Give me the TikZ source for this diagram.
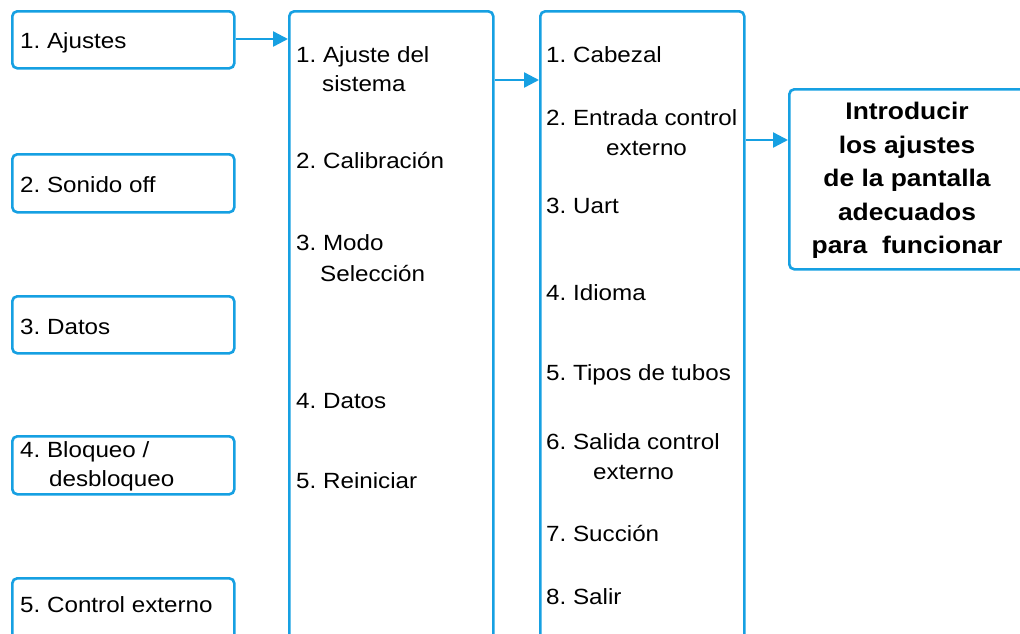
\documentclass[tikz,border=0pt]{standalone}
\usepackage{fontspec}
\setmainfont{Liberation Sans}[FakeStretch=1.1]
\usetikzlibrary{arrows.meta}
\definecolor{bl}{RGB}{22,160,226}
\frenchspacing
\tikzset{
  box/.style={draw=bl, line width=2.6pt, rounded corners=5pt, anchor=north west, inner sep=0pt, fill=white},
  txt/.style={anchor=base west, inner sep=0pt, font=\fontsize{22}{26}\selectfont\frenchspacing, text=black},
  btxt/.style={inner sep=0pt, font=\fontsize{24}{33.5}\selectfont\bfseries\frenchspacing, align=center, text=black},
  arr/.style={draw=bl, line width=2.4pt, -{Triangle[length=15pt,width=15pt]}},
}
\begin{document}
\begin{tikzpicture}[x=1pt,y=-1pt]
\clip (0,0) rectangle (1020,633);
\fill[white] (0,0) rectangle (1020,633);
% left boxes
\node[box, minimum width=222pt, minimum height=57pt] (b1) at (11,10) {};
\node[box, minimum width=222pt, minimum height=58pt] (b2) at (11,153) {};
\node[box, minimum width=222pt, minimum height=57pt] (b3) at (11,295) {};
\node[box, minimum width=222pt, minimum height=58pt] (b4) at (11,435) {};
\node[box, minimum width=222pt, minimum height=70pt] (b5) at (11,577) {};
% columns
\node[box, minimum width=204pt, minimum height=640pt] (c2) at (288,10) {};
\node[box, minimum width=204pt, minimum height=640pt] (c3) at (539,10) {};
\node[box, minimum width=250pt, minimum height=180pt] (f) at (788,88) {};
% left texts
\node[txt] (t1) at (20,48) {1. Ajustes};
\node[txt] (t2) at (20,192) {2. Sonido off};
\node[txt] (t3) at (20,334) {3. Datos};
\node[txt] (t4a) at (20,457) {4. Bloqueo /};
\node[txt] (t4b) at (49,486) {desbloqueo};
\node[txt] (t5) at (20,612) {5. Control externo};
% column 2 texts
\node[txt] (s1a) at (296,62) {1. Ajuste del};
\node[txt] (s1b) at (322,91) {sistema};
\node[txt] (s2) at (296,168) {2. Calibración};
\node[txt] (s3a) at (296,250) {3. Modo};
\node[txt] (s3b) at (320,281) {Selección};
\node[txt] (s4) at (296,408) {4. Datos};
\node[txt] (s5) at (296,488) {5. Reiniciar};
% column 3 texts
\node[txt] (u1) at (546,62) {1. Cabezal};
\node[txt] (u2a) at (546,125) {2. Entrada control};
\node[txt] (u2b) at (606,155) {externo};
\node[txt] (u3) at (546,213) {3. Uart};
\node[txt] (u4) at (546,300) {4. Idioma};
\node[txt] (u5) at (546,380) {5. Tipos de tubos};
\node[txt] (u6a) at (546,449) {6. Salida control};
\node[txt] (u6b) at (593,479) {externo};
\node[txt] (u7) at (546,541) {7. Succión};
\node[txt] (u8) at (546,604) {8. Salir};
% final text
\node[btxt, anchor=north] (ft) at (907,102) {Introducir\\los ajustes\\de la pantalla\\adecuados\\para\ \ funcionar};
% arrows
\coordinate (p1) at (0,39);
\coordinate (p2) at (0,80);
\coordinate (p3) at (0,140);
\draw[arr] (b1.east |- p1) -- (c2.west |- p1);
\draw[arr] (c2.east |- p2) -- (c3.west |- p2);
\draw[arr] (c3.east |- p3) -- (f.west |- p3);
\end{tikzpicture}
\end{document}
